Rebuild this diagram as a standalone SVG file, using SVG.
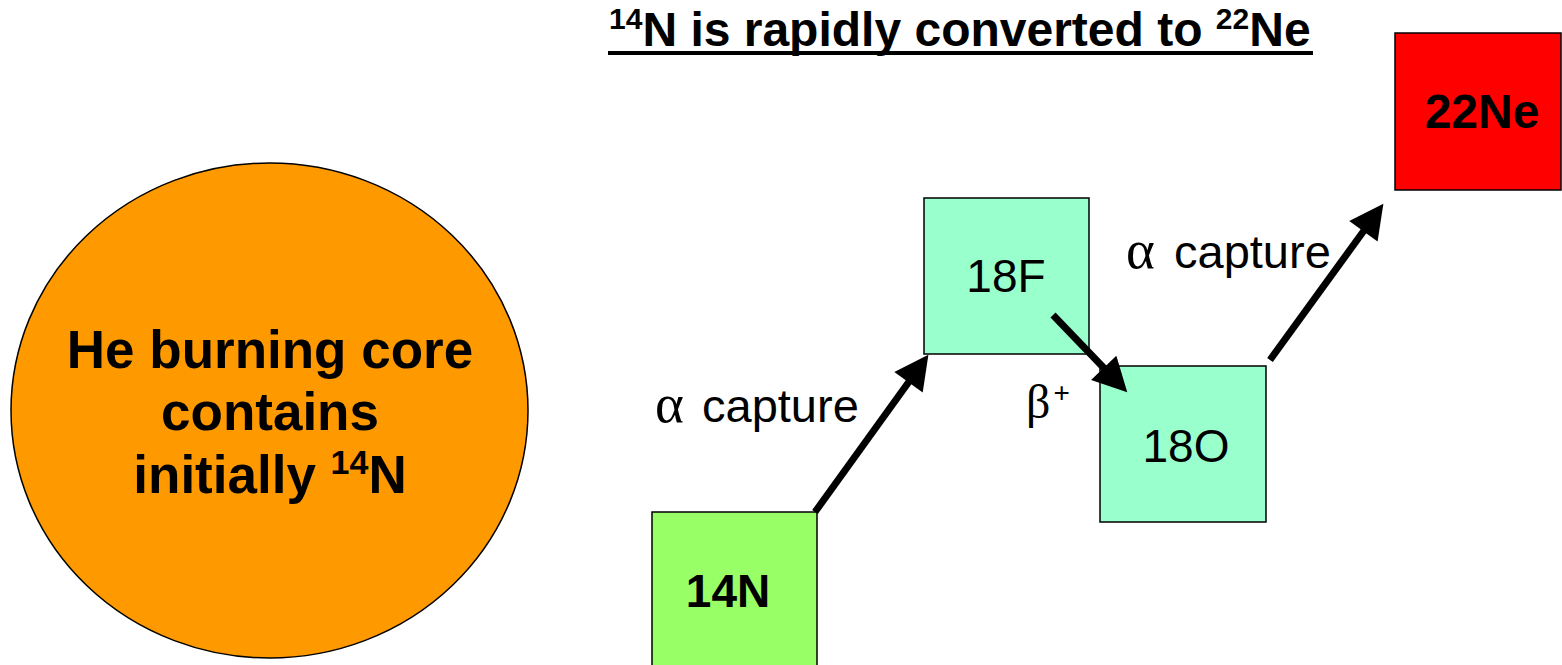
<svg xmlns="http://www.w3.org/2000/svg" width="1562" height="665" viewBox="0 0 1562 665">
<style>
.t{font-family:"Liberation Sans",Arial,sans-serif;fill:#000}
.b{font-weight:bold}
.box{stroke:#000;stroke-width:1.5}
.sym{font-family:"Liberation Serif","Times New Roman",serif}
.conn{stroke:#000;stroke-width:7;fill:none}
</style>
<defs>
<marker id="ah" markerUnits="userSpaceOnUse" markerWidth="36" markerHeight="36" refX="1" refY="17.5" orient="auto" overflow="visible">
<path d="M0,0 L34,17.5 L0,35 z" fill="#000"/>
</marker>
</defs>
<rect width="1562" height="665" fill="#fff"/>
<g id="title">
<text class="t b" x="609" y="46" font-size="48"><tspan font-size="30" dy="-17">14</tspan><tspan dy="17">N is rapidly converted to </tspan><tspan font-size="30" dy="-17">22</tspan><tspan dy="17">Ne</tspan></text>
<line x1="608" y1="53" x2="1313" y2="53" stroke="#000" stroke-width="4"/>
</g>
<g id="core">
<ellipse cx="269.5" cy="410.5" rx="258.5" ry="247.5" fill="#FF9900" stroke="#000" stroke-width="1.5"/>
<text class="t b" font-size="53" text-anchor="middle"><tspan x="270" y="368">He burning core</tspan><tspan x="270" y="430">contains</tspan><tspan x="270" y="493">initially <tspan font-size="34" dy="-19">14</tspan><tspan dy="19">N</tspan></tspan></text>
</g>
<g id="n14">
<rect class="box" x="652" y="512" width="165" height="160" fill="#99FF66"/>
<text class="t b" x="728" y="607" font-size="46" text-anchor="middle">14N</text>
</g>
<g id="f18">
<rect class="box" x="924" y="198" width="165" height="156" fill="#99FFCC"/>
<text class="t" x="1006" y="292" font-size="46" text-anchor="middle">18F</text>
</g>
<g id="o18">
<rect class="box" x="1100" y="366" width="166" height="156" fill="#99FFCC"/>
<text class="t" x="1186" y="462" font-size="46" text-anchor="middle">18O</text>
</g>
<g id="ne22">
<rect class="box" x="1395" y="33" width="166" height="157" fill="#FF0000"/>
<text class="t b" x="1482" y="128" font-size="48" text-anchor="middle">22Ne</text>
</g>
<g id="connectors">
<line class="conn" x1="815" y1="512" x2="909.1" y2="381.5" marker-end="url(#ah)"/>
<line class="conn" x1="1053" y1="315" x2="1104.4" y2="368.5" marker-end="url(#ah)"/>
<line class="conn" x1="1270" y1="360" x2="1364" y2="230.5" marker-end="url(#ah)"/>
</g>
<g id="labels">
<text class="t" y="422" font-size="47"><tspan class="sym" x="655" font-size="55">α</tspan><tspan x="702">capture</tspan></text>
<text class="t" y="268" font-size="47"><tspan class="sym" x="1126" font-size="55">α</tspan><tspan x="1174">capture</tspan></text>
<text class="t" x="1026" y="418" font-size="46"><tspan class="sym" font-size="48">β</tspan><tspan font-size="28" dx="3" dy="-16">+</tspan></text>
</g>
</svg>
